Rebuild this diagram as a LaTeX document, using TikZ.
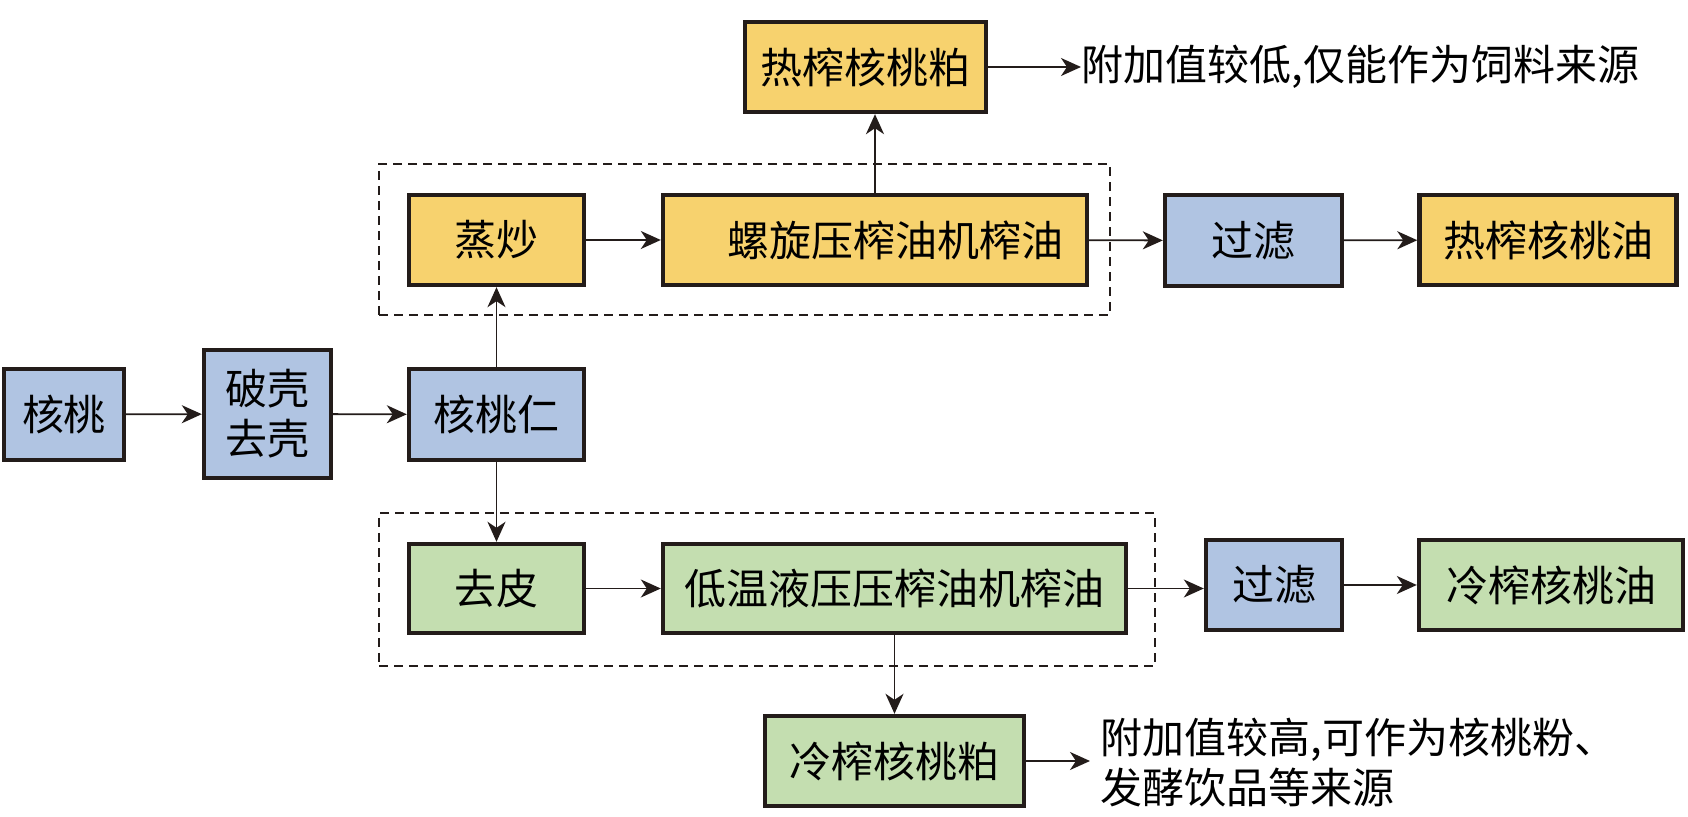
\documentclass[tikz,border=0pt]{standalone}
\usepackage{fontspec}
\setmainfont{Noto Sans CJK SC}
\usetikzlibrary{arrows.meta}
\definecolor{cyellow}{RGB}{247,210,110}
\definecolor{cblue}{RGB}{176,196,226}
\definecolor{cgreen}{RGB}{196,222,176}
\definecolor{cborder}{RGB}{35,28,26}
\begin{document}
\begin{tikzpicture}[x=0.5pt,y=-0.5pt,
  every node/.style={font=\fontsize{21pt}{25pt}\selectfont, text=black},
  procbox/.style={draw=cborder, line width=2.2pt, inner sep=0pt, align=center},
  ybox/.style={procbox, fill=cyellow},
  bbox/.style={procbox, fill=cblue},
  gbox/.style={procbox, fill=cgreen},
  groupbox/.style={draw=cborder, line width=0.8pt, dash pattern=on 4.5pt off 3pt, inner sep=0pt},
  flow/.style={draw=cborder, line width=0.9pt, -{Stealth[length=10pt,width=9pt,inset=3pt]}},
  note/.style={anchor=west, align=left, inner sep=0pt}
]
\useasboundingbox (0,0) rectangle (1688,817);

% dashed group boxes
\node[groupbox, minimum width=365.5pt, minimum height=75.5pt] (gtop) at (744.5,239.5) {};
\node[groupbox, minimum width=388pt, minimum height=76.5pt] (gbot) at (767,589.5) {};

% nodes
\node[bbox, minimum width=60pt, minimum height=45.5pt] (hetao) at (64,414.5) {核桃};
\node[bbox, minimum width=63.5pt, minimum height=64pt] (poke) at (267.5,414) {破壳\\去壳};
\node[bbox, minimum width=87.5pt, minimum height=45.5pt] (heren) at (496.5,414.5) {核桃仁};

\node[ybox, minimum width=87.5pt, minimum height=45pt] (zhengchao) at (496.5,240) {蒸炒};
\node[ybox, minimum width=212pt, minimum height=45pt] (luoxuan) at (875,240) {\hspace*{20pt}螺旋压榨油机榨油};
\node[bbox, minimum width=88.5pt, minimum height=45.5pt] (guolv1) at (1253.5,240.5) {过滤};
\node[ybox, minimum width=128.5pt, minimum height=45pt] (rezhayou) at (1548,240) {热榨核桃油};
\node[ybox, minimum width=120.5pt, minimum height=45pt] (rezhapo) at (865.5,67) {热榨核桃粕};
\node[note] (note1) at (1081,67) {附加值较低,仅能作为饲料来源};

\node[gbox, minimum width=87.5pt, minimum height=44.5pt] (qupi) at (496.5,588.5) {去皮};
\node[gbox, minimum width=231.5pt, minimum height=44.5pt] (diwen) at (894.5,588.5) {低温液压压榨油机榨油};
\node[bbox, minimum width=68pt, minimum height=45pt] (guolv2) at (1274,585) {过滤};
\node[gbox, minimum width=132pt, minimum height=45pt] (lengzhayou) at (1551,585) {冷榨核桃油};
\node[gbox, minimum width=129.5pt, minimum height=45pt] (lengzhapo) at (894.5,761) {冷榨核桃粕};
\node[note] (note2) at (1100,763) {附加值较高,可作为核桃粉、\\发酵饮品等来源};

% connectors
\draw[flow] (hetao) -- (poke);
\draw[flow] (poke) -- (heren);
\draw[flow] (heren) -- (zhengchao);
\draw[flow] (heren) -- (qupi);
\draw[flow] (zhengchao) -- (luoxuan);
\draw[flow] (luoxuan) -- (guolv1);
\draw[flow] (guolv1) -- (rezhayou);
\draw[flow] (luoxuan.north) -- (luoxuan.north |- rezhapo.south);
\draw[flow] (rezhapo) -- (note1.west);
\draw[flow] (qupi) -- (diwen);
\draw[flow] (diwen) -- (diwen -| guolv2.west);
\draw[flow] (guolv2) -- (lengzhayou);
\draw[flow] (diwen) -- (lengzhapo);
\draw[flow] (lengzhapo) -- ([xshift=-5pt]lengzhapo.east -| note2.west);
\end{tikzpicture}
\end{document}
